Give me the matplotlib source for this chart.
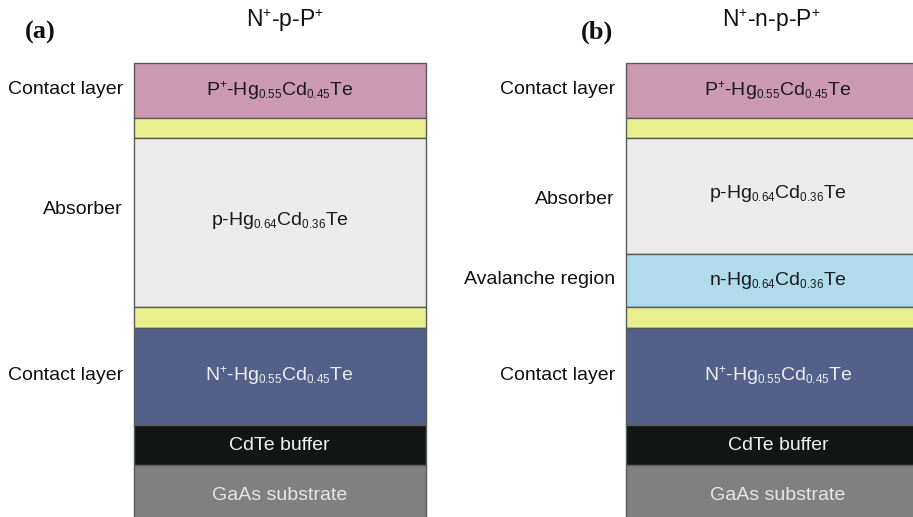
import matplotlib
matplotlib.use("Agg")
import matplotlib.pyplot as plt
import matplotlib._mathtext as mtext

plt.rcParams['font.family'] = ['Liberation Sans', 'DejaVu Sans']
plt.rcParams['mathtext.fontset'] = 'custom'
plt.rcParams['mathtext.rm'] = 'Liberation Sans'
plt.rcParams['mathtext.it'] = 'Liberation Sans:italic'
plt.rcParams['mathtext.bf'] = 'Liberation Sans:bold'
# smaller sub/superscripts, like the original figure
mtext.SHRINK_FACTOR = 0.6

# layer stacks, top to bottom (thickness in drawing units)
layers_a = ['P+ contact', 'barrier', 'p absorber', 'barrier', 'N+ contact', 'CdTe', 'GaAs']
thick_a = [55, 20, 168.5, 21, 97.5, 40, 60]
text_a = [r'P$^{+}$-Hg$_{0.55}$Cd$_{0.45}$Te', '', r'p-Hg$_{0.64}$Cd$_{0.36}$Te', '',
          r'N$^{+}$-Hg$_{0.55}$Cd$_{0.45}$Te', 'CdTe buffer', 'GaAs substrate']

layers_b = ['P+ contact', 'barrier', 'p absorber', 'n avalanche', 'barrier', 'N+ contact', 'CdTe', 'GaAs']
thick_b = [55, 20, 116, 52.5, 21, 97.5, 40, 60]
text_b = [r'P$^{+}$-Hg$_{0.55}$Cd$_{0.45}$Te', '', r'p-Hg$_{0.64}$Cd$_{0.36}$Te',
          r'n-Hg$_{0.64}$Cd$_{0.36}$Te', '', r'N$^{+}$-Hg$_{0.55}$Cd$_{0.45}$Te',
          'CdTe buffer', 'GaAs substrate']

side_a = ['Contact layer', 'Absorber', 'Contact layer']
side_b = ['Contact layer', 'Absorber', 'Avalanche region', 'Contact layer']

titles = [r'N$^{+}$-p-P$^{+}$', r'N$^{+}$-n-p-P$^{+}$']
panels = ['(a)', '(b)']

colors = {
    'P+ contact': '#cc99b3',
    'barrier': '#ebf08e',
    'p absorber': '#ebebeb',
    'n avalanche': '#b0dbec',
    'N+ contact': '#516189',
    'CdTe': '#141515',
    'GaAs': '#808080',
}
txt_col = {
    'P+ contact': '#1a1a1a', 'barrier': '#1a1a1a', 'p absorber': '#1a1a1a',
    'n avalanche': '#1a1a1a', 'N+ contact': '#eeeeee', 'CdTe': '#f2f2f2',
    'GaAs': '#e6e6e6',
}

fig = plt.figure(figsize=(9.13, 5.17), dpi=100)
ax = fig.add_axes([0, 0, 1, 1])
ax.set_xlim(0, 913)
ax.set_ylim(517, 0)
ax.axis('off')


def draw_stack(x0, x1, top, names, thick, texts, text_dy):
    y = top
    for i, (nm, t, tx) in enumerate(zip(names, thick, texts)):
        ax.bar((x0 + x1) / 2, t, width=x1 - x0, bottom=y, color=colors[nm],
               edgecolor='#5a5a5a', linewidth=1.0, zorder=1)
        if tx:
            ax.text((x0 + x1) / 2, y + t / 2 + text_dy.get(i, 0), tx, ha='center',
                    va='center', fontsize=14, color=txt_col[nm], zorder=3)
        y += t


draw_stack(134, 425.5, 63, layers_a, thick_a, text_a, {2: -2})
draw_stack(626, 930, 63, layers_b, thick_b, text_b, {2: -3})

side_y_a = [89, 210, 375]
side_y_b = [89, 199, 279, 375]
for s, yy in zip(side_a, side_y_a):
    ax.text(123, yy, s, ha='right', va='center', fontsize=14, color='#111111')
for s, yy in zip(side_b, side_y_b):
    ax.text(615, yy, s, ha='right', va='center', fontsize=14, color='#111111')

ax.text(285, 21, titles[0], ha='center', va='center', fontsize=16.5, color='#111111')
ax.text(771, 21, titles[1], ha='center', va='center', fontsize=16.5, color='#111111')
ax.text(40, 32, panels[0], ha='center', va='center', fontsize=19, fontweight='bold',
        family='Liberation Serif', color='#111111')
ax.text(597, 32, panels[1], ha='center', va='center', fontsize=19, fontweight='bold',
        family='Liberation Serif', color='#111111')

fig.savefig('out.png', dpi=100)
